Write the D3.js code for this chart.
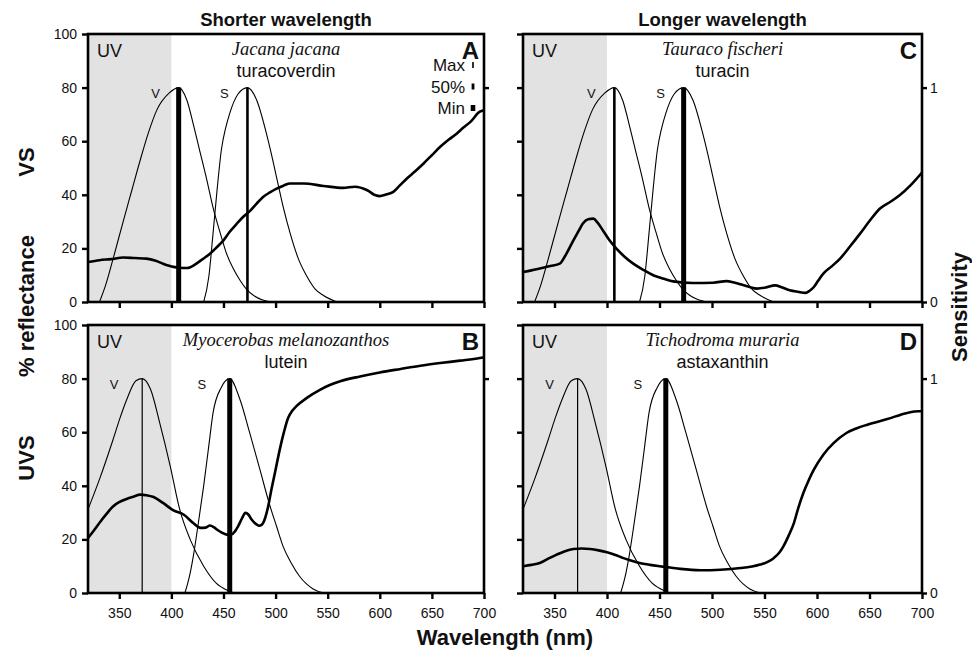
<!DOCTYPE html>
<html><head><meta charset="utf-8">
<script src="https://cdn.jsdelivr.net/npm/d3@7"></script>
<style>body{margin:0;background:#fff}svg{display:block}</style>
</head><body><svg id="chart" width="972" height="652"></svg>
<script>
// ---------- data ----------
const wavelengthDomain = [320, 700];
const xTicks = [350, 400, 450, 500, 550, 600, 650, 700];
const yTicks = [0, 20, 40, 60, 80, 100];
const sensTicks = [0, 1];
const uvRange = [320, 400];
const panelLetters = ['A', 'B', 'C', 'D'];
const columnTitles = ['Shorter wavelength', 'Longer wavelength'];
const rowLabels = ['VS', 'UVS'];
const speciesNames = ['Jacana jacana', 'Myocerobas melanozanthos', 'Tauraco fischeri', 'Tichodroma muraria'];
const pigmentNames = ['turacoverdin', 'lutein', 'turacin', 'astaxanthin'];
const visionSystem = ['VS', 'UVS', 'VS', 'UVS'];
const vPeaks = [407, 372, 407, 372];
const sPeaks = [473, 456, 473, 456];
const vLineClass = ['Min', 'Max', '50%', 'Max'];
const sLineClass = ['50%', 'Min', 'Min', 'Min'];
const legendLabels = ['Max', '50%', 'Min'];

// cone sensitivities (0-1)
const vsVSens = [[331,0],[337,0.08],[344,0.2],[354,0.38],[362,0.52],[370,0.66],[378,0.79],[386,0.895],[398,0.975],[407,1],[415,0.94],[421,0.83],[427,0.71],[434,0.57],[440,0.44],[447,0.32],[453,0.225],[460,0.15],[466,0.10],[472,0.06],[479,0.03],[487,0.01],[495,0]];
const vsSSens = [[431,0],[436,0.12],[440,0.32],[444,0.53],[448,0.71],[452,0.81],[456,0.88],[464,0.97],[473,1],[482,0.94],[491,0.79],[496,0.69],[501,0.58],[507,0.45],[514,0.32],[522,0.2],[530,0.12],[538,0.06],[546,0.03],[559,0]];
const uvsVSens = [[320,0.39],[331,0.53],[344,0.715],[351,0.82],[357,0.90],[366,0.99],[372,1],[380,0.95],[389,0.79],[399,0.59],[408,0.39],[418,0.25],[431,0.125],[443,0.046],[456,0.008],[460,0]];
const uvsSSens = [[413,0],[417,0.07],[421,0.17],[426,0.33],[431,0.50],[436,0.69],[440,0.84],[448,0.96],[456,1],[466,0.90],[475,0.75],[485,0.575],[495,0.40],[501,0.31],[507,0.22],[515,0.14],[523,0.078],[536,0.019],[546,0]];

// reflectance (%)
const reflJacana = [[320,14.9],[331,15.6],[342,16.0],[354,16.6],[365,16.4],[376,16.2],[385,15.4],[392,14.3],[402,13.1],[408,12.8],[415,12.7],[424,14.3],[430,16.0],[437,18],[444,20.6],[450,23],[456,26.2],[463,29.3],[469,31.8],[476,34.2],[482,36.8],[488,39.2],[495,41],[501,42.3],[508,43.5],[514,44.2],[527,44.2],[546,43.3],[565,42.6],[576,43],[588,41.7],[596,39.8],[600,39.5],[606,40.1],[613,41.1],[619,43.4],[626,46.1],[634,48.8],[642,51.7],[650,54.8],[658,57.9],[666,60.5],[674,62.9],[680,65],[687,67.2],[696,71],[700,71.5]];
const reflMyocerobas = [[320,20.5],[326,23.5],[332,26.7],[338,29.6],[344,32.3],[350,33.9],[357,35.1],[364,36.0],[370,36.7],[376,36.5],[383,35.8],[392,33.6],[402,30.8],[412,29.2],[421,26.1],[428,24.3],[433,24.4],[437,25.2],[441,24.5],[444,23.6],[448,22.6],[453,21.8],[458,21.9],[461,23],[464,24.9],[468,28],[471,29.9],[474,29.2],[477,27.4],[481,25.8],[484,25.1],[487,25.6],[490,28],[493,32.5],[496,38.6],[500,46],[504,53.5],[508,60],[512,65.3],[516,68],[520,69.7],[530,72.8],[543,75.9],[552,77.6],[562,79],[581,80.8],[600,82.3],[620,83.6],[639,84.8],[658,85.8],[677,86.7],[696,87.7],[700,88]];
const reflTauraco = [[320,11.2],[328,11.8],[336,12.5],[346,13.4],[355,14.3],[361,17.8],[368,23],[373,26.5],[377,29.3],[382,30.9],[387,31.1],[391,29.6],[396,26.8],[402,23.2],[409,19.9],[417,16.8],[425,14.3],[435,11.9],[444,10],[454,8.7],[463,7.7],[482,7.1],[501,7.2],[514,7.8],[520,7.4],[527,6.6],[535,5.7],[543,5],[551,5.4],[560,6.2],[567,5.4],[574,4.4],[582,3.8],[589,3.4],[593,4.2],[597,5.6],[601,7.9],[606,10.6],[614,13.3],[622,16.2],[631,20.5],[641,25.5],[650,30.2],[660,34.9],[670,37.4],[679,39.9],[689,43.5],[700,48.3]];
const reflTichodroma = [[320,10],[328,10.5],[336,11.2],[344,12.8],[352,14.3],[360,15.6],[368,16.4],[376,16.6],[384,16.4],[392,15.9],[400,15.2],[408,14.2],[415,13.1],[423,12.1],[431,11.2],[441,10.5],[450,10],[460,9.5],[470,9],[489,8.5],[508,8.7],[527,9.3],[538,9.9],[546,10.6],[553,11.6],[559,13.1],[564,15],[568,17.4],[573,21.4],[578,26.1],[582,31.5],[587,37.3],[592,42],[597,46],[606,51.6],[616,56],[628,59.7],[638,61.5],[648,62.8],[667,64.9],[686,67.2],[697,67.8],[700,67.8]];

const sensByVision = { VS: [vsVSens, vsSSens], UVS: [uvsVSens, uvsSSens] };
const reflByPanel = [reflJacana, reflMyocerobas, reflTauraco, reflTichodroma];

// ---------- layout ----------
const colX = [[88, 484], [523, 922]];
const rowY = [[34, 302], [325, 593]];
const panelPos = [[0, 0], [0, 1], [1, 0], [1, 1]]; // [col,row]
const lineWidth = { 'Max': 1.2, '50%': 2.6, 'Min': 5 };
const legendBarWidth = { 'Max': 1.6, '50%': 2.8, 'Min': 4.6 };
const sansFont = "'Liberation Sans', Arial, Helvetica, sans-serif";
const serifFont = "'Liberation Serif', 'Times New Roman', serif";

const svg = d3.select('#chart');
svg.append('rect').attr('width', 972).attr('height', 652).attr('fill', '#fff');

panelLetters.forEach((letter, i) => {
  const [c, r] = panelPos[i];
  const [x0, x1] = colX[c];
  const [y0, y1] = rowY[r];
  const x = d3.scaleLinear().domain(wavelengthDomain).range([x0, x1]);
  const y = d3.scaleLinear().domain([0, 100]).range([y1, y0]);
  const ys = d3.scaleLinear().domain([0, 1.25]).range([y1, y0]);
  const g = svg.append('g');
  const clipId = 'clip' + letter;
  g.append('clipPath').attr('id', clipId).append('rect')
    .attr('x', x0).attr('y', y0).attr('width', x1 - x0).attr('height', y1 - y0);

  // UV band
  g.append('rect').attr('x', x(uvRange[0])).attr('y', y0)
    .attr('width', x(uvRange[1]) - x(uvRange[0])).attr('height', y1 - y0)
    .attr('fill', '#e2e2e2');

  const plot = g.append('g').attr('clip-path', `url(#${clipId})`);
  const sensLine = d3.line().x(d => x(d[0])).y(d => ys(d[1])).curve(d3.curveMonotoneX);
  sensByVision[visionSystem[i]].forEach(curve => {
    plot.append('path').attr('d', sensLine(curve)).attr('fill', 'none')
      .attr('stroke', '#000').attr('stroke-width', 1.1);
  });
  // peak lines
  [[vPeaks[i], vLineClass[i]], [sPeaks[i], sLineClass[i]]].forEach(([p, cls]) => {
    plot.append('line').attr('x1', x(p)).attr('x2', x(p))
      .attr('y1', ys(0)).attr('y2', ys(1))
      .attr('stroke', '#000').attr('stroke-width', lineWidth[cls]);
  });
  // reflectance
  const reflLine = d3.line().x(d => x(d[0])).y(d => y(d[1])).curve(d3.curveMonotoneX);
  plot.append('path').attr('d', reflLine(reflByPanel[i])).attr('fill', 'none')
    .attr('stroke', '#000').attr('stroke-width', 2.6).attr('stroke-linejoin', 'round');

  // frame
  g.append('rect').attr('x', x0).attr('y', y0).attr('width', x1 - x0).attr('height', y1 - y0)
    .attr('fill', 'none').attr('stroke', '#000').attr('stroke-width', 2.6);

  // axes
  const styleAxis = sel => {
    sel.select('.domain').remove();
    sel.selectAll('.tick line').attr('stroke', '#000').attr('stroke-width', 2.4);
    sel.selectAll('.tick text').attr('fill', '#111').style('font-family', sansFont).style('font-size', '14px');
  };
  g.append('g').attr('transform', `translate(0,${y1})`)
    .call(d3.axisBottom(x).tickValues(xTicks).tickSize(6).tickPadding(9)
      .tickFormat(r === 1 ? d3.format('d') : () => ''))
    .call(styleAxis);
  g.append('g').attr('transform', `translate(${x0},0)`)
    .call(d3.axisLeft(y).tickValues(yTicks).tickSize(6).tickPadding(5)
      .tickFormat(c === 0 ? d3.format('d') : () => ''))
    .call(styleAxis);
  if (c === 1) {
    g.append('g').attr('transform', `translate(${x1},0)`)
      .call(d3.axisRight(ys).tickValues(sensTicks).tickSize(5).tickPadding(3).tickFormat(d3.format('d')))
      .call(styleAxis);
  } else {
    g.append('g').attr('transform', `translate(${x1},0)`)
      .call(d3.axisRight(ys).tickValues([1]).tickSize(5).tickFormat(() => ''))
      .call(styleAxis);
  }

  // texts
  g.append('text').attr('x', x0 + 9).attr('y', y0 + 23).text('UV')
    .style('font-family', sansFont).style('font-size', '18px').attr('fill', '#111');
  const cx = (x0 + x1) / 2;
  g.append('text').attr('x', cx).attr('y', y0 + 21).attr('text-anchor', 'middle')
    .text(speciesNames[i]).style('font-family', serifFont).style('font-style', 'italic')
    .style('font-size', '18.5px').attr('fill', '#111');
  g.append('text').attr('x', cx).attr('y', y0 + 43).attr('text-anchor', 'middle')
    .text(pigmentNames[i]).style('font-family', sansFont).style('font-size', '18px').attr('fill', '#111');
  g.append('text').attr('x', x1 - 5).attr('y', y0 + 25).attr('text-anchor', 'end')
    .text(letter).style('font-family', sansFont).style('font-weight', 'bold')
    .style('font-size', '24px').attr('fill', '#111');
  const lblOff = visionSystem[i] === 'VS' ? 23 : 28;
  [['V', vPeaks[i]], ['S', sPeaks[i]]].forEach(([t, p]) => {
    g.append('text').attr('x', x(p) - lblOff).attr('y', ys(0.95)).attr('text-anchor', 'middle')
      .text(t).style('font-family', sansFont).style('font-size', '13px').attr('fill', '#111');
  });

  // legend in A
  if (i === 0) {
    legendLabels.forEach((lab, k) => {
      const by = y0 + 37 + k * 21.5;
      g.append('text').attr('x', x1 - 19).attr('y', by).attr('text-anchor', 'end')
        .text(lab).style('font-family', sansFont).style('font-size', '17px').attr('fill', '#111');
      const w = legendBarWidth[lab];
      g.append('rect').attr('x', x1 - 11 - w / 2).attr('y', by - 9).attr('width', w).attr('height', 6)
        .attr('fill', '#000');
    });
  }
});

// column titles
columnTitles.forEach((t, c) => {
  svg.append('text').attr('x', (colX[c][0] + colX[c][1]) / 2).attr('y', 26)
    .attr('text-anchor', 'middle').text(t)
    .style('font-family', sansFont).style('font-weight', 'bold').style('font-size', '18.5px').attr('fill', '#111');
});
// row labels
rowLabels.forEach((t, r) => {
  const cy = r === 0 ? 162 : 458;
  svg.append('text').attr('transform', `translate(34,${cy}) rotate(-90)`)
    .attr('text-anchor', 'middle').text(t)
    .style('font-family', sansFont).style('font-weight', 'bold').style('font-size', '22px').attr('fill', '#111');
});
svg.append('text').attr('transform', 'translate(34,306) rotate(-90)')
  .attr('text-anchor', 'middle').text('% reflectance')
  .style('font-family', sansFont).style('font-weight', 'bold').style('font-size', '22px').attr('fill', '#111');
svg.append('text').attr('transform', 'translate(967,307) rotate(-90)')
  .attr('text-anchor', 'middle').text('Sensitivity')
  .style('font-family', sansFont).style('font-weight', 'bold').style('font-size', '22px').attr('fill', '#111');
svg.append('text').attr('x', 505).attr('y', 645).attr('text-anchor', 'middle')
  .text('Wavelength (nm)')
  .style('font-family', sansFont).style('font-weight', 'bold').style('font-size', '22px').attr('fill', '#111');
</script></body></html>
